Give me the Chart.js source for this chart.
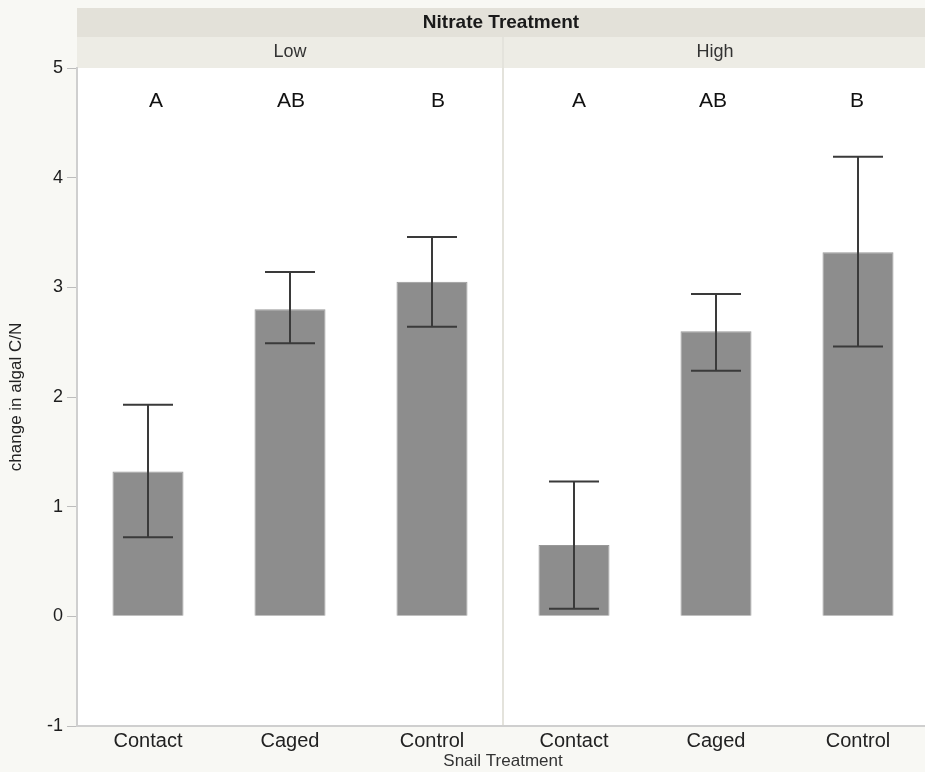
<!DOCTYPE html>
<html>
<head>
<meta charset="utf-8">
<script src="https://cdn.jsdelivr.net/npm/chart.js@4/dist/chart.umd.min.js"></script>
<style>
  html, body { margin: 0; padding: 0; background: #f8f8f4; overflow: hidden; }
  /* the right panel runs a few pixels past the visible edge */
  #wrap { width: 925px; height: 772px; overflow: hidden; }
</style>
</head>
<body>
<div id="wrap"><canvas id="c" width="929" height="772"></canvas></div>
<script>
// Snail treatment within each nitrate level
const categories = ["Contact", "Caged", "Control", "Contact", "Caged", "Control"];
const nitrateLevels = ["Low", "High"];
// Mean change in algal C/N
const meanChange = [1.32, 2.80, 3.05, 0.65, 2.60, 3.32];
// Error bar ends
const errUpper = [1.93, 3.14, 3.46, 1.23, 2.94, 4.19];
const errLower = [0.72, 2.49, 2.64, 0.07, 2.24, 2.46];
// Significance groupings
const groupLetters = ["A", "AB", "B", "A", "AB", "B"];
// Y tick range
const yMin = -1, yMax = 5;

const FONT = "'Liberation Sans', Arial, Helvetica, sans-serif";

// hand-placed horizontal nudges of the grouping letters (px)
const letterNudge = [8, 1, 6, 5, -3, -1];

const panelPlugin = {
  id: 'panels',
  beforeDraw(chart) {
    const { ctx, chartArea: a } = chart;
    ctx.save();
    ctx.fillStyle = '#f8f8f4';
    ctx.fillRect(0, 0, chart.width, chart.height);
    // header bands
    ctx.fillStyle = '#e3e1d9';
    ctx.fillRect(a.left, 8, chart.width - a.left, 29);
    ctx.fillStyle = '#edece5';
    ctx.fillRect(a.left, 37, chart.width - a.left, a.top - 37);
    // plot area
    ctx.fillStyle = '#ffffff';
    ctx.fillRect(a.left, a.top, a.right - a.left, a.bottom - a.top);
    // divider between nitrate levels
    const xs = chart.scales.x;
    const mid = (xs.getPixelForValue(2) + xs.getPixelForValue(3)) / 2;
    ctx.strokeStyle = '#e4e3dc';
    ctx.lineWidth = 2;
    ctx.beginPath();
    ctx.moveTo(mid, 37);
    ctx.lineTo(mid, a.bottom);
    ctx.stroke();
    // header text
    ctx.fillStyle = '#1a1a1a';
    ctx.textAlign = 'center';
    ctx.textBaseline = 'middle';
    ctx.font = 'bold 19px ' + FONT;
    ctx.fillText('Nitrate Treatment', 501, 23);
    ctx.font = '18px ' + FONT;
    ctx.fillStyle = '#333';
    ctx.fillText(nitrateLevels[0], xs.getPixelForValue(1), 52);
    ctx.fillText(nitrateLevels[1], xs.getPixelForValue(4) - 1, 52);
    ctx.restore();
  },
  afterDatasetsDraw(chart) {
    const { ctx } = chart;
    const ys = chart.scales.y;
    const meta = chart.getDatasetMeta(0);
    ctx.save();
    ctx.strokeStyle = '#3a3a3a';
    ctx.lineWidth = 2;
    meta.data.forEach((bar, i) => {
      const x = bar.x;
      const yt = ys.getPixelForValue(errUpper[i]);
      const yb = ys.getPixelForValue(errLower[i]);
      ctx.beginPath();
      ctx.moveTo(x, yt); ctx.lineTo(x, yb);
      ctx.moveTo(x - 25, yt); ctx.lineTo(x + 25, yt);
      ctx.moveTo(x - 25, yb); ctx.lineTo(x + 25, yb);
      ctx.stroke();
    });
    ctx.fillStyle = '#111';
    ctx.textAlign = 'center';
    ctx.textBaseline = 'middle';
    ctx.font = '21px ' + FONT;
    meta.data.forEach((bar, i) => {
      ctx.fillText(groupLetters[i], bar.x + letterNudge[i], 101);
    });
    ctx.restore();
  }
};

new Chart(document.getElementById('c'), {
  type: 'bar',
  data: {
    labels: categories,
    datasets: [{
      data: meanChange,
      backgroundColor: '#8d8d8d',
      borderColor: '#999999',
      borderWidth: 1,
      barPercentage: 0.5,
      categoryPercentage: 1.0
    }]
  },
  options: {
    responsive: false,
    animation: false,
    layout: { padding: { top: 68, right: 0, left: 0, bottom: 0 } },
    plugins: { legend: { display: false }, tooltip: { enabled: false } },
    scales: {
      x: {
        grid: { display: false, drawTicks: false },
        border: { display: true, color: '#cfcfcf', width: 2 },
        ticks: { color: '#222', font: { family: FONT, size: 20 }, padding: 3 },
        title: { display: true, text: 'Snail Treatment', color: '#333', font: { family: FONT, size: 17 }, padding: { top: 0, bottom: 0 } },
        afterFit(s) { s.height = 46; }
      },
      y: {
        min: yMin, max: yMax,
        ticks: { stepSize: 1, color: '#1e1e1e', font: { family: FONT, size: 18 }, padding: 4 },
        grid: { drawOnChartArea: false, drawTicks: true, tickLength: 10, color: '#bdbdbd', lineWidth: 1 },
        border: { display: true, color: '#cfcfcf', width: 2 },
        title: { display: true, text: 'change in algal C/N', color: '#222', font: { family: FONT, size: 17 }, padding: { top: 6, bottom: 0 } },
        afterFit(s) { s.width = 77; }
      }
    }
  },
  plugins: [panelPlugin]
});
</script>
</body>
</html>
